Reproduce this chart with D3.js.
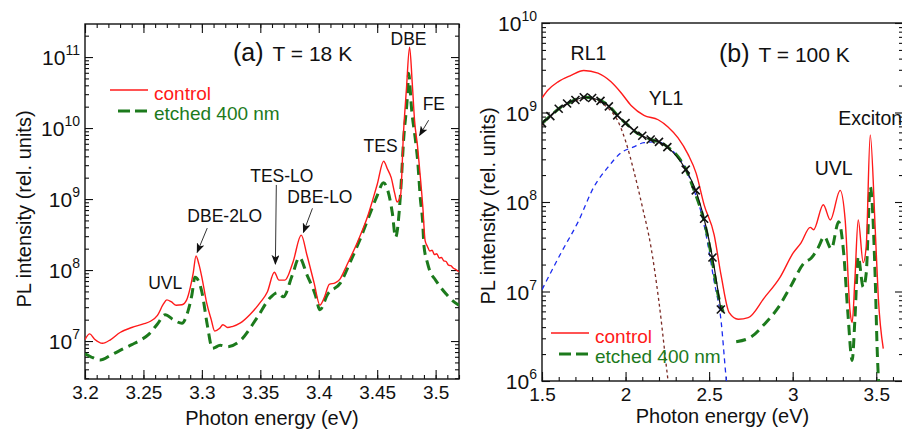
<!DOCTYPE html>
<html>
<head>
<meta charset="utf-8">
<script src="https://cdn.jsdelivr.net/npm/d3@7"></script>
<style>
  body { margin: 0; background: #fff; }
  svg { display: block; font-family: "Liberation Sans", Arial, sans-serif; }
  .axis path.domain { display: none; }
  .axis line { stroke: #111; stroke-width: 1.1; }
</style>
</head>
<body>
<div id="chart"></div>
<script>
// ---------- panel (a), T = 18 K ----------
var energyA = [3.200, 3.204, 3.208, 3.215, 3.222, 3.230, 3.240, 3.250, 3.256, 3.262, 3.267, 3.270, 3.274, 3.278,
    3.283, 3.287, 3.290, 3.2925, 3.295, 3.2975, 3.300, 3.304, 3.308, 3.311, 3.315, 3.318, 3.322, 3.326, 3.333,
    3.341, 3.350, 3.356, 3.362, 3.366, 3.371, 3.378, 3.385, 3.390, 3.396, 3.401, 3.405, 3.409, 3.414, 3.418,
    3.424, 3.433, 3.442, 3.446, 3.450, 3.4555, 3.459, 3.462, 3.465, 3.467, 3.470, 3.4725, 3.475, 3.4777, 3.480,
    3.482, 3.4845, 3.486, 3.489, 3.491, 3.493, 3.495, 3.497, 3.499, 3.501, 3.503, 3.505, 3.507, 3.509, 3.511,
    3.513, 3.515, 3.517, 3.520];
var controlA = [1.05e7, 1.26e7, 1.07e7, 9.3e6, 1.05e7, 1.32e7, 1.55e7, 1.74e7, 1.9e7, 2.3e7, 3.3e7, 3.8e7, 3.55e7, 3.2e7,
    3.25e7, 3.8e7, 5.6e7, 8.9e7, 1.58e8, 1.2e8, 7.9e7, 3.5e7, 2.0e7, 1.38e7, 1.5e7, 1.7e7, 1.55e7, 1.6e7, 1.8e7,
    2.35e7, 3.5e7, 4.9e7, 9.3e7, 7.2e7, 7.2e7, 1.3e8, 3.1e8, 1.6e8, 6.6e7, 3.2e7, 4.2e7, 6.3e7, 6.6e7, 7.4e7,
    1.17e8, 2.45e8, 5.8e8, 9.5e8, 1.6e9, 3.4e9, 2.6e9, 2.0e9, 1.2e9, 9.1e8, 1.12e9, 8.5e9, 3.5e10, 1.38e11, 4.3e10,
    1.26e10, 5.6e9, 3.0e9, 7.9e8, 2.6e8, 2.15e8, 1.85e8, 1.9e8, 1.65e8, 1.7e8, 1.48e8, 1.5e8, 1.35e8, 1.32e8, 1.17e8,
    1.15e8, 1.07e8, 1.02e8, 9.5e7];

var energyEtchedA = [3.200, 3.205, 3.213, 3.222, 3.230, 3.240, 3.247, 3.255, 3.262, 3.2686, 3.2755, 3.283, 3.288,
    3.2915, 3.294, 3.297, 3.300, 3.3046, 3.309, 3.3157, 3.3217, 3.333, 3.347, 3.3586, 3.3646, 3.3697, 3.3774,
    3.3834, 3.390, 3.397, 3.401, 3.4074, 3.4186, 3.427, 3.4357, 3.444, 3.450, 3.4554, 3.4589, 3.463, 3.4657, 3.470,
    3.4726, 3.476, 3.4769, 3.4795, 3.483, 3.4846, 3.487, 3.4889, 3.490, 3.493, 3.4957, 3.499, 3.504, 3.509,
    3.5137, 3.520];
var etchedA = [6.6e6, 6.0e6, 5.4e6, 6.3e6, 7.4e6, 8.9e6, 1.02e7, 1.26e7, 1.74e7, 2.35e7, 2.0e7, 1.78e7, 2.6e7,
    4.5e7, 7.9e7, 7.1e7, 4.9e7, 1.7e7, 7.9e6, 8.7e6, 8.3e6, 1.02e7, 2.1e7, 4.1e7, 4.8e7, 4.2e7, 8.5e7,
    1.5e8, 8.5e7, 4.5e7, 2.75e7, 4.5e7, 6.6e7, 1.3e8, 2.8e8, 6.3e8, 1.12e9, 1.7e9, 1.35e9, 6.3e8, 2.9e8, 1.2e9,
    6.8e9, 3.1e10, 5.9e10, 1.8e10, 6.2e9, 3.5e9, 9.8e8, 4.8e8, 2.2e8, 1.26e8, 9.1e7, 7.6e7, 5.8e7, 4.6e7,
    3.8e7, 3.2e7];

// ---------- panel (b), T = 100 K ----------
var energyB = [1.500, 1.536, 1.596, 1.674, 1.750, 1.835, 1.913, 1.973, 2.033, 2.110, 2.195, 2.254, 2.314, 2.374,
    2.422, 2.470, 2.530, 2.572, 2.620, 2.674, 2.734, 2.830, 2.925, 3.003, 3.050, 3.105, 3.125, 3.183, 3.225,
    3.284, 3.314, 3.344, 3.356, 3.372, 3.392, 3.422, 3.440, 3.464, 3.494, 3.512, 3.542];
var controlB = [1.45e9, 1.78e9, 2.2e9, 2.6e9, 2.95e9, 2.75e9, 2.2e9, 1.66e9, 1.2e9, 9.3e8, 8.3e8, 6.9e8, 5.2e8, 3.4e8,
    2.1e8, 9.3e7, 4.3e7, 1.5e7, 5.8e6, 4.9e6, 5.1e6, 8.5e6, 1.45e7, 2.7e7, 3.5e7, 5.2e7, 4.9e7, 9.3e7, 6.3e7,
    1.35e8, 6.3e7, 5.8e6, 4.5e6, 1.35e7, 6.3e7, 2.1e7, 3.2e7, 5.6e8, 4.9e7, 8.7e6, 2.3e6];

var energyEtchedB = [1.500, 1.554, 1.614, 1.674, 1.720, 1.763, 1.810, 1.865, 1.913, 1.961, 2.015, 2.063, 2.110,
    2.165, 2.213, 2.260, 2.314, 2.362, 2.410, 2.452, 2.464, 2.512, 2.554, 2.584, 2.62, 2.662, 2.751, 2.830,
    2.913, 2.991, 3.070, 3.110, 3.153, 3.189, 3.231, 3.275, 3.305, 3.330, 3.356, 3.372, 3.392, 3.422, 3.440,
    3.464, 3.494, 3.505, 3.520];
var etchedB = [7.6e8, 9.3e8, 1.15e9, 1.32e9, 1.45e9, 1.48e9, 1.45e9, 1.32e9, 1.12e9, 8.9e8, 7.2e8, 6.0e8, 5.4e8,
    4.9e8, 4.6e8, 4.0e8, 3.2e8, 2.3e8, 1.35e8, 8.1e7, 6.8e7, 2.6e7, 9.1e6, 5.9e6, null, 2.75e6, 3.1e6, 4.3e6,
    6.6e6, 1.17e7, 2.1e7, 2.35e7, 3.1e7, 4.1e7, 3.0e7, 6.0e7, 2.7e7, 5.8e6, 1.7e6, 4.8e6, 2.45e7, 1.12e7, 1.6e7,
    1.48e8, 1.35e7, 2.4e6, 6.3e5];

// two-band fit of the etched spectrum (crosses = sum)
var fitEnergy = [1.50, 1.55, 1.60, 1.65, 1.70, 1.75, 1.80, 1.85, 1.90, 1.95, 2.00, 2.05, 2.10, 2.15, 2.20, 2.25,
    2.36, 2.42, 2.47, 2.52, 2.57];
var fitSum = [7.6e8, 9.1e8, 1.1e9, 1.26e9, 1.38e9, 1.48e9, 1.45e9, 1.35e9, 1.17e9, 9.3e8, 7.6e8, 6.3e8, 5.5e8,
    5.0e8, 4.7e8, 4.1e8, 2.3e8, 1.35e8, 6.5e7, 2.4e7, 6.3e6];
var rl1Energy = [1.50, 1.60, 1.70, 1.77, 1.85, 1.90, 1.95, 2.00, 2.05, 2.10, 2.15, 2.20, 2.25, 2.28];
var rl1Fit = [7.2e8, 1.1e9, 1.35e9, 1.45e9, 1.29e9, 1.1e9, 8.3e8, 4.8e8, 2.2e8, 8.9e7, 3.3e7, 7.6e6, 1.17e6, 4e5];
var yl1Energy = [1.50, 1.614, 1.716, 1.811, 1.895, 1.973, 2.045, 2.11, 2.195, 2.26, 2.314, 2.362, 2.41, 2.45,
    2.47, 2.53, 2.572, 2.60, 2.615];
var yl1Fit = [1.05e7, 2.7e7, 6.0e7, 1.48e8, 2.45e8, 3.55e8, 4.1e8, 4.6e8, 4.7e8, 4.0e8, 3.2e8, 2.3e8, 1.35e8, 7.9e7,
    5.5e7, 1.3e7, 4.6e6, 1.17e6, 6.3e5];

// tick labels
var xTicksA = [3.2, 3.25, 3.3, 3.35, 3.4, 3.45, 3.5];
var xTicksB = [1.5, 2, 2.5, 3, 3.5];
var decadesA = [7, 8, 9, 10, 11];
var decadesB = [6, 7, 8, 9, 10];

// peak labels (energy, intensity)
var labelsA = [
    { text: 'DBE', e: 3.4768, v: 1.48e11, anchor: 'middle' },
    { text: 'FE', e: 3.4889, v: 1.78e10, anchor: 'start' },
    { text: 'TES', e: 3.4529, v: 4.6e9, anchor: 'middle' },
    { text: 'TES-LO', e: 3.3684, v: 1.74e9, anchor: 'middle' },
    { text: 'DBE-LO', e: 3.401, v: 8.7e8, anchor: 'middle' },
    { text: 'DBE-2LO', e: 3.3196, v: 4.8e8, anchor: 'middle' },
    { text: 'UVL', e: 3.2686, v: 5.4e7, anchor: 'middle' }
];
var arrowsA = [
    { e1: 3.494, v1: 1.29e10, e2: 3.4863, v2: 7.9e9 },
    { e1: 3.3637, v1: 1.58e9, e2: 3.3629, v2: 1.22e8 },
    { e1: 3.3946, v1: 7.4e8, e2: 3.3869, v2: 3.4e8 },
    { e1: 3.3046, v1: 3.9e8, e2: 3.296, v2: 1.78e8 }
];
var labelsB = [
    { text: 'RL1', e: 1.778, v: 3.86e9, anchor: 'middle' },
    { text: 'YL1', e: 2.2425, v: 1.21e9, anchor: 'middle' },
    { text: 'UVL', e: 3.2455, v: 2.0e8, anchor: 'middle' },
    { text: 'Exciton', e: 3.2725, v: 7.2e8, anchor: 'start' }
];

var width = 902, height = 431;
var red = '#ff1a1a', green = '#1c7a1c';

var svg = d3.select('#chart').append('svg')
    .attr('width', width)
    .attr('height', height);

var defs = svg.append('defs');
defs.append('marker')
    .attr('id', 'arrowhead')
    .attr('viewBox', '0 0 10 8')
    .attr('refX', 9).attr('refY', 4)
    .attr('markerWidth', 10).attr('markerHeight', 8)
    .attr('markerUnits', 'userSpaceOnUse')
    .attr('orient', 'auto')
    .append('path')
    .attr('d', 'M0,0L10,4L0,8L2.5,4Z')
    .attr('fill', '#111');

function minorLogTicks(domain) {
    var out = [];
    var lo = Math.floor(Math.log10(domain[0])), hi = Math.ceil(Math.log10(domain[1]));
    for (var d = lo; d <= hi; d++) {
        for (var k = 2; k <= 9; k++) {
            var v = k * Math.pow(10, d);
            if (v > domain[0] && v < domain[1]) out.push(v);
        }
    }
    return out;
}

function drawPanel(p) {
    var x = d3.scaleLinear().domain(p.xDomain).range([p.left, p.right]);
    var y = d3.scaleLog().domain(p.yDomain).range([p.bottom, p.top]);
    var g = svg.append('g');

    defs.append('clipPath').attr('id', p.id + '-clip')
        .append('rect')
        .attr('x', p.left).attr('y', p.top)
        .attr('width', p.right - p.left).attr('height', p.bottom - p.top);

    // axes, ticks inward
    var minorX = d3.range(p.xDomain[0], p.xDomain[1] + 1e-9, p.minorStep).map(d => +d.toFixed(3));
    var minorY = minorLogTicks(p.yDomain);
    var majorY = p.decades.map(d => Math.pow(10, d));

    g.append('g').attr('class', 'axis').attr('transform', 'translate(0,' + p.bottom + ')')
        .call(d3.axisBottom(x).tickValues(minorX).tickSize(-4).tickFormat(''));
    var xAxis = g.append('g').attr('class', 'axis').attr('transform', 'translate(0,' + p.bottom + ')')
        .call(d3.axisBottom(x).tickValues(p.xTicks).tickSize(-9).tickPadding(7).tickFormat(d3.format('')));
    xAxis.selectAll('text').attr('fill', '#111').style('font-size', '19px').style('font-family', null);

    if (p.topTicks) {
        g.append('g').attr('class', 'axis').attr('transform', 'translate(0,' + p.top + ')')
            .call(d3.axisTop(x).tickValues(minorX).tickSize(-4).tickFormat(''));
        g.append('g').attr('class', 'axis').attr('transform', 'translate(0,' + p.top + ')')
            .call(d3.axisTop(x).tickValues(p.xTicks).tickSize(-9).tickFormat(''));
    }

    [[d3.axisLeft, p.left], [d3.axisRight, p.right]].forEach(function (a) {
        g.append('g').attr('class', 'axis').attr('transform', 'translate(' + a[1] + ',0)')
            .call(a[0](y).tickValues(minorY).tickSize(-4).tickFormat(''));
        g.append('g').attr('class', 'axis').attr('transform', 'translate(' + a[1] + ',0)')
            .call(a[0](y).tickValues(majorY).tickSize(-8).tickFormat(''));
    });

    // decade labels 10^n
    var yl = g.append('g').selectAll('text')
        .data(p.decades)
        .enter().append('text')
        .attr('x', p.left - 5)
        .attr('y', d => y(Math.pow(10, d)) + 8)
        .attr('text-anchor', 'end')
        .attr('fill', '#111')
        .style('font-size', '21px');
    yl.append('tspan').text('10');
    yl.append('tspan').attr('dy', -10).style('font-size', '14px').text(d => d);

    // frame
    g.append('rect')
        .attr('x', p.left).attr('y', p.top)
        .attr('width', p.right - p.left).attr('height', p.bottom - p.top)
        .attr('fill', 'none').attr('stroke', '#111').attr('stroke-width', 1.4);

    // axis titles
    g.append('text')
        .attr('x', (p.left + p.right) / 2).attr('y', p.xTitleY)
        .attr('text-anchor', 'middle').attr('fill', '#111')
        .style('font-size', '20px')
        .text('Photon energy (eV)');
    g.append('text')
        .attr('transform', 'translate(' + p.yTitleX + ',' + p.yTitleY + ') rotate(-90)')
        .attr('text-anchor', 'middle').attr('fill', '#111')
        .style('font-size', '20px')
        .text('PL intensity (rel. units)');

    var plot = g.append('g').attr('clip-path', 'url(#' + p.id + '-clip)');
    var line = d3.line()
        .defined(d => d[1] != null)
        .curve(d3.curveMonotoneX)
        .x(d => x(d[0]))
        .y(d => y(d[1]));

    (p.extra || []).forEach(function (s) {
        plot.append('path')
            .datum(d3.zip(s.e, s.v))
            .attr('d', line)
            .attr('fill', 'none')
            .attr('stroke', s.color)
            .attr('stroke-width', s.width)
            .attr('stroke-dasharray', s.dash);
    });

    plot.append('path')
        .datum(d3.zip(p.etchedE, p.etched))
        .attr('d', line)
        .attr('fill', 'none')
        .attr('stroke', green)
        .attr('stroke-width', 3)
        .attr('stroke-dasharray', '10,6');

    plot.append('path')
        .datum(d3.zip(p.controlE, p.control))
        .attr('d', line)
        .attr('fill', 'none')
        .attr('stroke', red)
        .attr('stroke-width', 1.4)
        .attr('stroke-linejoin', 'round');

    if (p.fit) {
        plot.append('path')
            .datum(d3.zip(p.fit.e, p.fit.v))
            .attr('d', line)
            .attr('fill', 'none')
            .attr('stroke', '#111')
            .attr('stroke-width', 1.2);
        plot.selectAll('.cross')
            .data(d3.zip(p.fit.e, p.fit.v))
            .enter().append('path')
            .attr('class', 'cross')
            .attr('transform', d => 'translate(' + x(d[0]) + ',' + y(d[1]) + ')')
            .attr('d', 'M-4,-4L4,4M-4,4L4,-4')
            .attr('stroke', '#111')
            .attr('stroke-width', 1.6);
    }

    // peak labels and arrows
    g.append('g').selectAll('text')
        .data(p.labels)
        .enter().append('text')
        .attr('x', d => x(d.e)).attr('y', d => y(d.v))
        .attr('text-anchor', d => d.anchor)
        .attr('fill', '#111')
        .style('font-size', p.labelSize)
        .text(d => d.text);

    g.append('g').selectAll('line')
        .data(p.arrows || [])
        .enter().append('line')
        .attr('x1', d => x(d.e1)).attr('y1', d => y(d.v1))
        .attr('x2', d => x(d.e2)).attr('y2', d => y(d.v2))
        .attr('stroke', '#333')
        .attr('stroke-width', 1)
        .attr('marker-end', 'url(#arrowhead)');

    // panel title
    var t = g.append('text')
        .attr('x', p.left + p.titleDx).attr('y', p.top + p.titleDy)
        .attr('fill', '#111');
    t.append('tspan').style('font-size', '25px').text(p.tag);
    t.append('tspan').attr('dx', 9).style('font-size', '21px').text(p.temp);

    // legend
    var lg = g.append('g').attr('transform', 'translate(' + (p.left + p.legDx) + ',' + (p.top + p.legDy) + ')');
    lg.append('line').attr('x1', 0).attr('x2', 38).attr('y1', 0).attr('y2', 0)
        .attr('stroke', red).attr('stroke-width', 1.4);
    lg.append('text').attr('x', 44).attr('y', 10).attr('fill', red)
        .style('font-size', '19px').text('control');
    lg.append('line').attr('x1', 8).attr('x2', 38).attr('y1', 21).attr('y2', 21)
        .attr('stroke', green).attr('stroke-width', 3).attr('stroke-dasharray', '12,5');
    lg.append('text').attr('x', 44).attr('y', 30).attr('fill', green)
        .style('font-size', '19px').text('etched 400 nm');
}

drawPanel({
    id: 'a',
    left: 85, right: 459, top: 24, bottom: 379,
    xDomain: [3.2, 3.52], yDomain: [2.92e6, 2.92e11],
    xTicks: xTicksA, minorStep: 0.01, decades: decadesA, topTicks: true,
    controlE: energyA, control: controlA,
    etchedE: energyEtchedA, etched: etchedA,
    labels: labelsA, arrows: arrowsA, labelSize: '17.5px',
    xTitleY: 425, yTitleX: 31, yTitleY: 209,
    tag: '(a)', temp: 'T = 18 K', titleDx: 148, titleDy: 37,
    legDx: 25, legDy: 66
});

drawPanel({
    id: 'b',
    left: 542, right: 903, top: 23, bottom: 381,
    xDomain: [1.5, 3.66], yDomain: [1e6, 1e10],
    xTicks: xTicksB, minorStep: 0.1, decades: decadesB, topTicks: false,
    controlE: energyB, control: controlB,
    etchedE: energyEtchedB, etched: etchedB,
    extra: [
        { e: rl1Energy, v: rl1Fit, color: '#7a2a24', width: 1.3, dash: '3,3' },
        { e: yl1Energy, v: yl1Fit, color: '#1c2cf0', width: 1.3, dash: '5,4' }
    ],
    fit: { e: fitEnergy, v: fitSum },
    labels: labelsB, labelSize: '19.5px',
    xTitleY: 423, yTitleX: 495, yTitleY: 206,
    tag: '(b)', temp: 'T = 100 K', titleDx: 177, titleDy: 39,
    legDx: 9, legDy: 310
});
</script>
</body>
</html>
